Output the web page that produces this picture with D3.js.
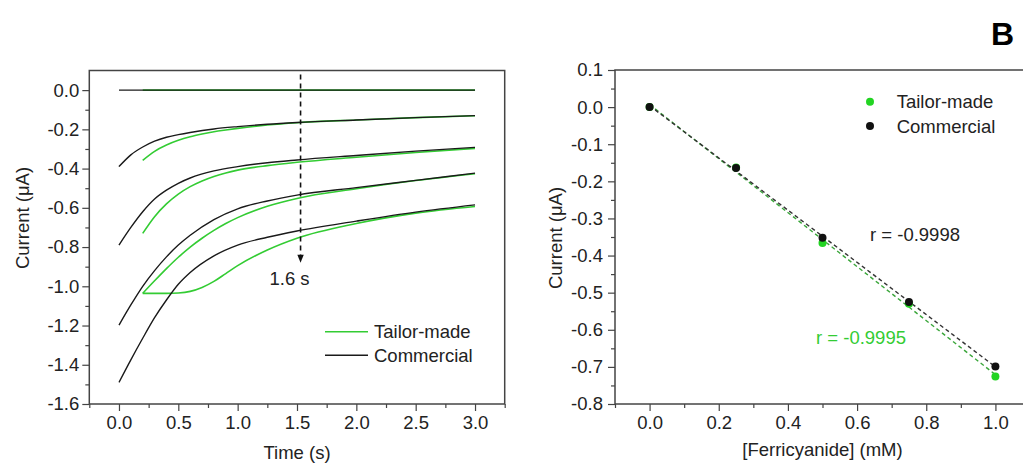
<!DOCTYPE html>
<html>
<head>
<meta charset="utf-8">
<script src="https://cdn.jsdelivr.net/npm/d3@7"></script>
<style>
  html, body { margin: 0; padding: 0; background: #fff; }
  svg { display: block; }
  text { font-family: "Liberation Sans", Arial, Helvetica, sans-serif; fill: #222; }
</style>
</head>
<body>
<svg id="chart" width="1023" height="465"></svg>
<script>
// ---------- Panel A data: chronoamperometric transients ----------
const timeCommercial = [0, 0.1, 0.2, 0.3, 0.4, 0.5, 0.6, 0.8, 1.0, 1.25, 1.5, 2.0, 2.5, 3.0];
const commercial1 = [0, 0, 0, 0, 0, 0, 0, 0, 0, 0, 0, 0, 0, 0];
const commercial2 = [-0.39, -0.33, -0.29, -0.26, -0.24, -0.227, -0.216, -0.198, -0.186, -0.174, -0.165, -0.152, -0.140, -0.130];
const commercial3 = [-0.79, -0.70, -0.62, -0.555, -0.51, -0.475, -0.448, -0.412, -0.39, -0.37, -0.356, -0.333, -0.311, -0.292];
const commercial4 = [-1.198, -1.095, -1.0, -0.92, -0.85, -0.79, -0.74, -0.66, -0.605, -0.565, -0.535, -0.497, -0.46, -0.423];
const commercial5 = [-1.49, -1.375, -1.265, -1.16, -1.07, -0.99, -0.93, -0.845, -0.79, -0.75, -0.718, -0.668, -0.622, -0.585];

const timeTailor = [0.2, 0.3, 0.4, 0.5, 0.6, 0.7, 0.8, 0.9, 1.0, 1.25, 1.5, 2.0, 2.5, 3.0];
const tailor1 = [0, 0, 0, 0, 0, 0, 0, 0, 0, 0, 0, 0, 0, 0];
const tailor2 = [-0.358, -0.312, -0.28, -0.256, -0.238, -0.224, -0.212, -0.203, -0.195, -0.178, -0.166, -0.152, -0.140, -0.131];
const tailor3 = [-0.73, -0.645, -0.58, -0.53, -0.492, -0.463, -0.44, -0.422, -0.408, -0.385, -0.368, -0.342, -0.318, -0.297];
const tailor4 = [-1.036, -0.972, -0.91, -0.852, -0.80, -0.755, -0.715, -0.68, -0.65, -0.592, -0.552, -0.503, -0.461, -0.426];
const tailor5 = [-1.036, -1.036, -1.036, -1.034, -1.026, -1.006, -0.975, -0.935, -0.895, -0.815, -0.755, -0.68, -0.627, -0.593];

const markerTime = 1.53;          // dashed marker line
const markerTop = 0.08, markerTip = -0.88;
const markerLabel = "1.6 s";

const xTicksA = [0, 0.5, 1.0, 1.5, 2.0, 2.5, 3.0];
const xMinorA = [-0.25, 0.25, 0.75, 1.25, 1.75, 2.25, 2.75, 3.25];
const yTicksA = [0, -0.2, -0.4, -0.6, -0.8, -1.0, -1.2, -1.4, -1.6];
const yMinorA = [-0.1, -0.3, -0.5, -0.7, -0.9, -1.1, -1.3, -1.5];

// ---------- Panel B data: calibration ----------
const concentration = [0, 0.25, 0.5, 0.75, 1.0];
const currentTailor = [0, -0.163, -0.366, -0.530, -0.726];
const currentCommercial = [0, -0.164, -0.352, -0.525, -0.699];
const rTailor = "r = -0.9995";
const rCommercial = "r = -0.9998";

const xTicksB = [0, 0.2, 0.4, 0.6, 0.8, 1.0];
const xMinorB = [-0.1, 0.1, 0.3, 0.5, 0.7, 0.9, 1.1];
const yTicksB = [0.1, 0, -0.1, -0.2, -0.3, -0.4, -0.5, -0.6, -0.7, -0.8];
const yMinorB = [0.05, -0.05, -0.15, -0.25, -0.35, -0.45, -0.55, -0.65, -0.75];

const legendLabels = ["Tailor-made", "Commercial"];

// ---------- styling ----------
const GREEN = "#33cc33";
const GREEN_DOT = "#22d422";
const BLACK = "#1a1a1a";
const FRAME = "#444";
const FS = 18.5;

const svg = d3.select("#chart");

function fmt(d) { return d3.format(".1f")(d).replace("−", "-"); }

function drawAxes(g, x, y, W, H, xt, xm, yt, ym, ypad) {
  const axB = g.append("g").attr("transform", `translate(0,${H})`)
    .call(d3.axisBottom(x).tickValues(xt).tickSize(7).tickPadding(5).tickFormat(fmt));
  const axBm = g.append("g").attr("transform", `translate(0,${H})`)
    .call(d3.axisBottom(x).tickValues(xm).tickSize(4).tickFormat(""));
  const axL = g.append("g")
    .call(d3.axisLeft(y).tickValues(yt).tickSize(7).tickPadding(ypad).tickFormat(fmt));
  const axLm = g.append("g")
    .call(d3.axisLeft(y).tickValues(ym).tickSize(4).tickFormat(""));
  [axB, axBm, axL, axLm].forEach(a => {
    a.select(".domain").remove();
    a.selectAll("line").attr("stroke", FRAME).attr("stroke-width", 1.2);
    a.selectAll("text").attr("font-size", FS).attr("fill", "#222")
      .attr("font-family", '"Liberation Sans", Arial, sans-serif');
  });
  g.append("rect").attr("x", 0).attr("y", 0).attr("width", W).attr("height", H)
    .attr("fill", "none").attr("stroke", FRAME).attr("stroke-width", 1.5);
}

// ================= Panel A =================
{
  const L = 89.3, T = 70.5, W = 415.4, H = 333.5;
  const g = svg.append("g").attr("transform", `translate(${L},${T})`);
  const x = d3.scaleLinear().domain([-0.25, 3.25]).range([0, W]);
  const y = d3.scaleLinear().domain([-1.6, 0.1]).range([H, 0]);

  g.append("clipPath").attr("id", "clipA")
    .append("rect").attr("width", W).attr("height", H);

  const line = d3.line().x(d => x(d[0])).y(d => y(d[1])).curve(d3.curveMonotoneX);
  const plot = g.append("g").attr("clip-path", "url(#clipA)");

  const tailorSeries = [tailor1, tailor2, tailor3, tailor4, tailor5];
  const commSeries = [commercial1, commercial2, commercial3, commercial4, commercial5];

  tailorSeries.forEach(s => {
    plot.append("path").datum(timeTailor.map((t, i) => [t, s[i]]))
      .attr("d", line).attr("fill", "none").attr("stroke", GREEN).attr("stroke-width", 1.6);
  });
  commSeries.forEach(s => {
    plot.append("path").datum(timeCommercial.map((t, i) => [t, s[i]]))
      .attr("d", line).attr("fill", "none").attr("stroke", BLACK).attr("stroke-width", 1.4);
  });

  // dashed marker with arrow
  const mx = x(markerTime);
  plot.append("line").attr("x1", mx).attr("x2", mx)
    .attr("y1", y(markerTop)).attr("y2", y(markerTip) - 7)
    .attr("stroke", "#111").attr("stroke-width", 1.6).attr("stroke-dasharray", "5,4");
  const tip = y(markerTip);
  plot.append("path")
    .attr("d", `M${mx - 3.2},${tip - 8} L${mx + 3.2},${tip - 8} L${mx},${tip} Z`)
    .attr("fill", "#111");
  g.append("text").attr("x", mx - 11).attr("y", tip + 22)
    .attr("text-anchor", "middle").attr("font-size", FS).text(markerLabel);

  drawAxes(g, x, y, W, H, xTicksA, xMinorA, yTicksA, yMinorA, 3);

  // axis titles
  g.append("text").attr("x", W / 2).attr("y", 459 - T)
    .attr("text-anchor", "middle").attr("font-size", FS).text("Time (s)");
  svg.append("text").attr("transform", "translate(29,218) rotate(-90)")
    .attr("text-anchor", "middle").attr("font-size", FS).text("Current (\u03bcA)");

  // legend
  const lg = svg.append("g");
  const legColors = [GREEN, BLACK];
  legendLabels.forEach((lab, i) => {
    const ly = 331.7 + i * 23.5;
    lg.append("line").attr("x1", 325).attr("x2", 368).attr("y1", ly).attr("y2", ly)
      .attr("stroke", legColors[i]).attr("stroke-width", 1.6);
    lg.append("text").attr("x", 374).attr("y", ly + 6.5).attr("font-size", FS).text(lab);
  });
}

// ================= Panel B =================
{
  const L = 615, T = 70, W = 415, H = 334;
  const g = svg.append("g").attr("transform", `translate(${L},${T})`);
  const x = d3.scaleLinear().domain([-0.1, 1.1]).range([0, W]);
  const y = d3.scaleLinear().domain([-0.8, 0.1]).range([H, 0]);

  // linear fits computed from the measured points
  function fit(xs, ys) {
    const mx = d3.mean(xs), my = d3.mean(ys);
    const sxy = d3.sum(xs, (v, i) => (v - mx) * (ys[i] - my));
    const sxx = d3.sum(xs, v => (v - mx) * (v - mx));
    const b = sxy / sxx, a = my - b * mx;
    return [[xs[0], a + b * xs[0]], [xs[xs.length - 1], a + b * xs[xs.length - 1]]];
  }
  const line = d3.line().x(d => x(d[0])).y(d => y(d[1]));

  g.append("path").datum(fit(concentration, currentTailor)).attr("d", line)
    .attr("fill", "none").attr("stroke", "#3aa63a").attr("stroke-width", 1.4)
    .attr("stroke-dasharray", "4,3");
  g.append("path").datum(fit(concentration, currentCommercial)).attr("d", line)
    .attr("fill", "none").attr("stroke", "#333").attr("stroke-width", 1.4)
    .attr("stroke-dasharray", "4,3");

  g.selectAll(".dt").data(concentration.map((c, i) => [c, currentTailor[i]]))
    .join("circle").attr("cx", d => x(d[0])).attr("cy", d => y(d[1]))
    .attr("r", 4).attr("fill", GREEN_DOT);
  g.selectAll(".dc").data(concentration.map((c, i) => [c, currentCommercial[i]]))
    .join("circle").attr("cx", d => x(d[0])).attr("cy", d => y(d[1]))
    .attr("r", 4).attr("fill", "#111");

  drawAxes(g, x, y, W, H, xTicksB, xMinorB, yTicksB, yMinorB, 5);

  g.append("text").attr("x", W / 2).attr("y", 456 - T)
    .attr("text-anchor", "middle").attr("font-size", FS).text("[Ferricyanide] (mM)");
  svg.append("text").attr("transform", "translate(562,238) rotate(-90)")
    .attr("text-anchor", "middle").attr("font-size", FS).text("Current (\u03bcA)");

  // legend
  const legColors = [GREEN_DOT, "#111"];
  legendLabels.forEach((lab, i) => {
    const ly = 101.7 + i * 24.3;
    svg.append("circle").attr("cx", 870).attr("cy", ly).attr("r", 4).attr("fill", legColors[i]);
    svg.append("text").attr("x", 896.7).attr("y", ly + 6.5).attr("font-size", FS).text(lab);
  });

  svg.append("text").attr("x", 870).attr("y", 240.5).attr("font-size", FS).text(rCommercial);
  svg.append("text").attr("x", 816).attr("y", 344).attr("font-size", FS)
    .style("fill", GREEN).text(rTailor);

  svg.append("text").attr("x", 991).attr("y", 45).attr("font-size", 32)
    .attr("font-weight", "bold").style("fill", "#000").text("B");
}
</script>
</body>
</html>
